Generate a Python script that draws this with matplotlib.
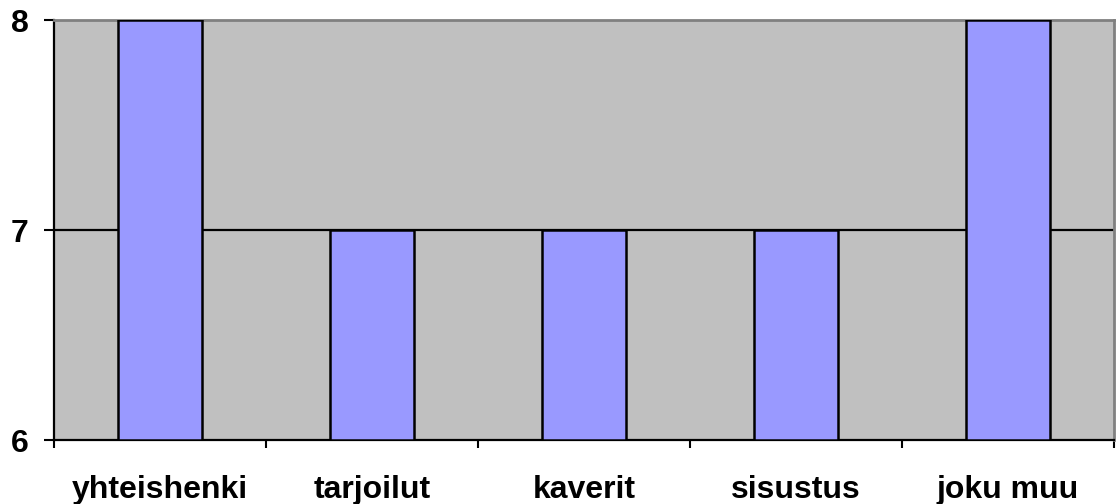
import matplotlib
matplotlib.use("Agg")
import matplotlib.pyplot as plt

categories = ["yhteishenki", "tarjoilut", "kaverit", "sisustus", "joku muu"]
values = [8, 7, 7, 7, 8]
yticks = [6, 7, 8]

plt.rcParams['font.family'] = ['Liberation Sans', 'DejaVu Sans']

fig = plt.figure(figsize=(11.18, 5.04), dpi=100)
ax = fig.add_axes([54/1118, 64/504, 1060/1118, 420/504])
ax.set_facecolor('#C0C0C0')

x = list(range(len(categories)))
ax.bar(x, [v - 6 for v in values], bottom=6, width=0.4, color='#9999FF',
       edgecolor='black', linewidth=1.8, zorder=3)

ax.set_xlim(-0.5, len(categories) - 0.5)
ax.set_ylim(6, 8)
ax.axhline(7, color='black', linewidth=1.6, zorder=2)

ax.set_yticks(yticks)
ax.set_yticklabels([str(t) for t in yticks], fontsize=23, fontweight='bold')
ax.set_xticks([i - 0.5 for i in range(len(categories) + 1)])
ax.set_xticklabels([])
ax.set_xticks(x, minor=True)
ax.set_xticklabels(categories, minor=True, fontsize=23, fontweight='bold')
ax.tick_params(axis='x', which='minor', length=0, pad=25)
ax.tick_params(axis='x', which='major', length=6, width=1.5, direction='out')
ax.tick_params(axis='y', length=7.2, width=1.5, direction='out', pad=11)

for s in ['left', 'bottom']:
    ax.spines[s].set_color('black')
    ax.spines[s].set_linewidth(1.6)
for s in ['top', 'right']:
    ax.spines[s].set_color('#808080')
    ax.spines[s].set_linewidth(2)

fig.savefig('out.png', dpi=100)
